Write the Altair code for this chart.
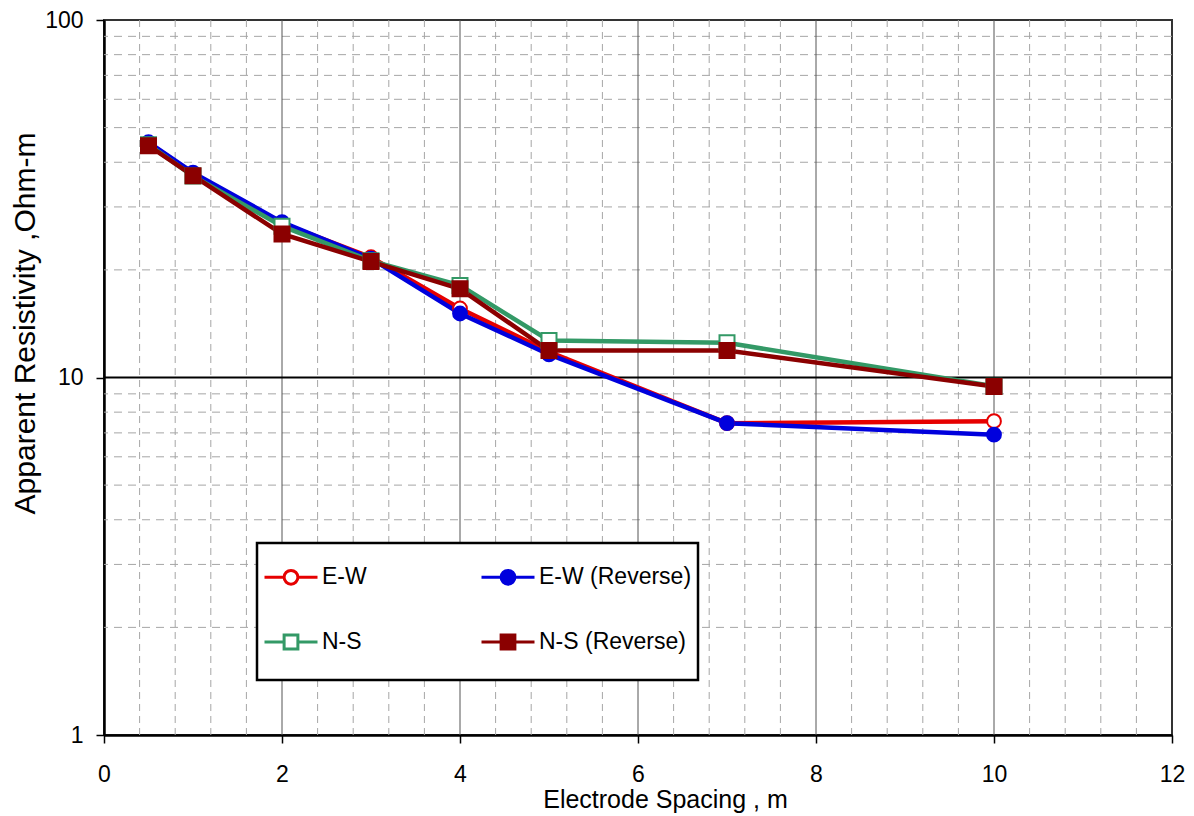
import altair as alt
import pandas as pd

# ---- data ----
spacing = [0.5, 1, 2, 3, 4, 5, 7, 10]
ew = [45.3, 37.2, 27.0, 21.7, 15.6, 11.8, 7.45, 7.55]
ew_rev = [45.5, 37.4, 27.2, 21.5, 15.1, 11.6, 7.45, 6.92]
ns = [44.8, 36.6, 26.5, 21.2, 18.1, 12.7, 12.5, 9.45]
ns_rev = [44.5, 36.7, 25.2, 21.1, 17.7, 11.9, 11.9, 9.44]

series_names = ["E-W", "E-W (Reverse)", "N-S", "N-S (Reverse)"]
line_colors = ["#e60000", "#0000dd", "#339966", "#8b0000"]
fill_colors = ["#ffffff", "#0000dd", "#ffffff", "#8b0000"]
marker_shapes = ["circle", "circle", "square", "square"]
marker_sizes = [190, 190, 225, 225]

x_ticks = [0, 2, 4, 6, 8, 10, 12]
x_major_grid = [2, 4, 6, 8, 10]
x_minor_grid = [0.4, 0.8, 1.2, 1.6, 2.4, 2.8, 3.2, 3.6, 4.4, 4.8, 5.2, 5.6,
                6.4, 6.8, 7.2, 7.6, 8.4, 8.8, 9.2, 9.6, 10.4, 10.8, 11.2, 11.6]
y_ticks = [1, 10, 100]
y_major_grid = [10]
y_minor_grid = [2, 3, 4, 5, 6, 7, 8, 9, 20, 30, 40, 50, 60, 70, 80, 90]

# legend symbols: line with marker (trailing move-to only reserves space below)
circle_path = ("M-1,0H-0.26M0.26,0H1M-0.26,0A0.26,0.26,0,1,0,0.26,0"
               "A0.26,0.26,0,1,0,-0.26,0ZM0,0.96")
square_path = "M-1,0H-0.26M0.26,0H1M-0.26,-0.26H0.26V0.26H-0.26ZM0,0.96"
legend_paths = [circle_path, circle_path, square_path, square_path]

rows = []
for name, vals in zip(series_names, [ew, ew_rev, ns, ns_rev]):
    for xv, yv in zip(spacing, vals):
        rows.append({"series": name, "x": xv, "y": yv})
df = pd.DataFrame(rows)

FONT = "Liberation Sans"

xscale = alt.Scale(domain=[0, 12], nice=False, zero=False)
yscale = alt.Scale(type="log", domain=[1, 100], nice=False)

x_axis = alt.Axis(values=x_ticks, grid=False, title="Electrode Spacing , m",
                  labelFontSize=23, titleFontSize=25, labelFont=FONT, titleFont=FONT,
                  titleFontWeight="normal", labelColor="black", titleColor="black",
                  domainColor="black", domainWidth=2.5, tickColor="black", tickWidth=1.5,
                  tickSize=8, labelPadding=20, titleBaseline="alphabetic",
                  titleX=561, titleY=72, titleAlign="center", labelFlush=False)
y_axis = alt.Axis(values=y_ticks, grid=False, format="d",
                  title="Apparent Resistivity ,Ohm-m",
                  labelFontSize=23, titleFontSize=30, labelFont=FONT, titleFont=FONT,
                  titleFontWeight="normal", labelColor="black", titleColor="black",
                  domainColor="black", domainWidth=2.5, tickColor="black", tickWidth=1.5,
                  tickSize=8, labelPadding=13, titleBaseline="alphabetic",
                  titleAngle=270, titleX=-70, titleY=303, titleAlign="center",
                  labelFlush=False)

stroke_scale = alt.Scale(domain=series_names, range=line_colors)
fill_scale = alt.Scale(domain=series_names, range=fill_colors)
shape_scale = alt.Scale(domain=series_names, range=legend_paths)

minor_x = alt.Chart(pd.DataFrame({"v": x_minor_grid})).mark_rule(
    color="#a6a6a6", strokeWidth=1, strokeDash=[7, 5]
).encode(x=alt.X("v:Q", scale=xscale, axis=x_axis))

minor_y = alt.Chart(pd.DataFrame({"v": y_minor_grid})).mark_rule(
    color="#a6a6a6", strokeWidth=1, strokeDash=[8, 6]
).encode(y=alt.Y("v:Q", scale=yscale, axis=y_axis))

major_x = alt.Chart(pd.DataFrame({"v": x_major_grid})).mark_rule(
    color="#555555", strokeWidth=1
).encode(x=alt.X("v:Q", scale=xscale, axis=x_axis))

major_y = alt.Chart(pd.DataFrame({"v": y_major_grid})).mark_rule(
    color="black", strokeWidth=2
).encode(y=alt.Y("v:Q", scale=yscale, axis=y_axis))

base = alt.Chart(df)
X = alt.X("x:Q", scale=xscale, axis=x_axis)
Y = alt.Y("y:Q", scale=yscale, axis=y_axis)

line_layers = []
marker_layers = []
for name, lc, fc, shp, sz in zip(series_names, line_colors, fill_colors,
                                 marker_shapes, marker_sizes):
    sub = base.transform_filter(alt.datum.series == name)
    line_layers.append(
        sub.mark_line(strokeWidth=4.5, stroke=lc).encode(x=X, y=Y)
    )
    marker_layers.append(
        sub.mark_point(shape=shp, size=sz, strokeWidth=2, opacity=1,
                       stroke=lc, fill=fc, filled=True).encode(x=X, y=Y)
    )

legend_def = alt.Legend(
    title=None, orient="none", legendX=153, legendY=523, columns=2,
    direction="horizontal",
    symbolSize=2809, symbolStrokeWidth=3, symbolOpacity=1,
    labelFont=FONT, labelFontSize=23, labelColor="black", labelOffset=3,
    padding=6, rowPadding=5, columnPadding=108,
    strokeColor="black", fillColor="white",
)

legend_layer = base.mark_point(opacity=0, size=2809, strokeWidth=3).encode(
    x=X, y=Y,
    stroke=alt.Stroke("series:N", scale=stroke_scale, legend=legend_def),
    fill=alt.Fill("series:N", scale=fill_scale, legend=legend_def),
    shape=alt.Shape("series:N", scale=shape_scale, legend=legend_def),
)

chart = alt.layer(
    minor_x, minor_y, major_x, major_y, *line_layers, *marker_layers, legend_layer
).properties(
    width=1068, height=715,
    autosize=alt.AutoSizeParams(type="none"),
    padding={"left": 96, "top": 12, "right": 14, "bottom": 80},
).configure_view(
    stroke="#333333", strokeWidth=2
).configure_legend(
    strokeWidth=2.5
)

chart.save("out.html", embed_options={"renderer": "svg", "actions": False})
